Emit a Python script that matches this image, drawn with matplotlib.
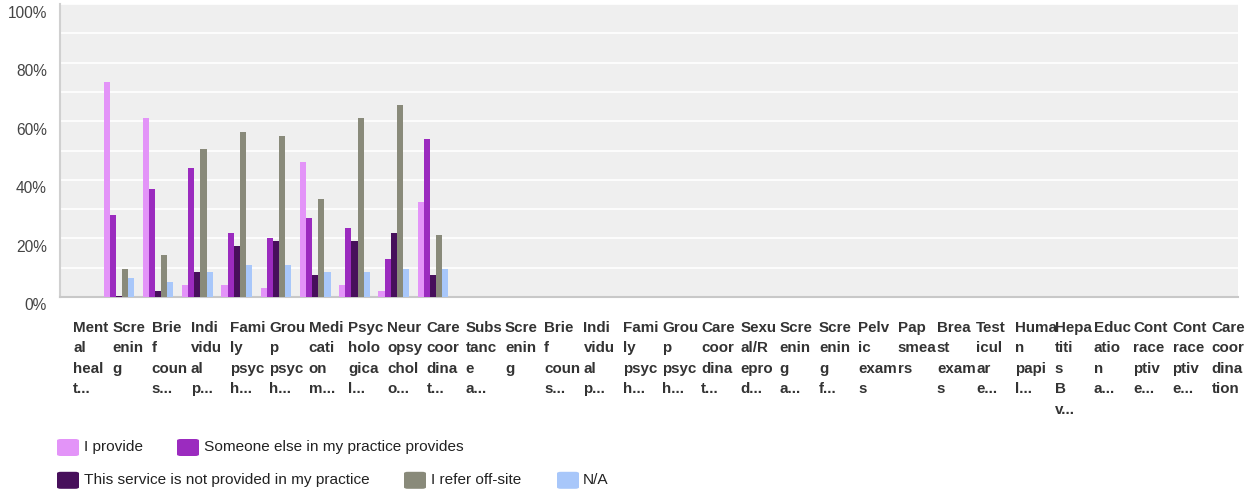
import numpy as np
import matplotlib
matplotlib.use("Agg")
import matplotlib.pyplot as plt
from matplotlib.patches import FancyBboxPatch
from matplotlib.transforms import ScaledTranslation

plt.rcParams['font.family'] = ['Liberation Sans', 'DejaVu Sans']

# ---- data ----
categories = [
    "Ment\nal\nheal\nt...", "Scre\nenin\ng", "Brie\nf\ncoun\ns...", "Indi\nvidu\nal\np...",
    "Fami\nly\npsyc\nh...", "Grou\np\npsyc\nh...", "Medi\ncati\non\nm...", "Psyc\nholo\ngica\nl...",
    "Neur\nopsy\nchol\no...", "Care\ncoor\ndina\nt...", "Subs\ntanc\ne\na...", "Scre\nenin\ng",
    "Brie\nf\ncoun\ns...", "Indi\nvidu\nal\np...", "Fami\nly\npsyc\nh...", "Grou\np\npsyc\nh...",
    "Care\ncoor\ndina\nt...", "Sexu\nal/R\nepro\nd...", "Scre\nenin\ng\na...", "Scre\nenin\ng\nf...",
    "Pelv\nic\nexam\ns", "Pap\nsmea\nrs", "Brea\nst\nexam\ns", "Test\nicul\nar\ne...",
    "Huma\nn\npapi\nl...", "Hepa\ntiti\ns\nB\nv...", "Educ\natio\nn\na...", "Cont\nrace\nptiv\ne...",
    "Cont\nrace\nptiv\ne...", "Care\ncoor\ndina\ntion",
]
N = None
i_provide   = [N, 73.5, 61.2, 4.1, 4.1, 3.1, 46.2, 4.1, 2.1, 32.5] + [N] * 20
someone     = [N, 28.0, 36.9, 44.1, 21.9, 20.2, 27.0, 23.6, 13.0, 54.0] + [N] * 20
not_provided = [N, 0.4, 2.1, 8.5, 17.4, 19.1, 7.5, 19.1, 21.9, 7.5] + [N] * 20
refer       = [N, 9.6, 14.4, 50.6, 56.4, 55.0, 33.5, 61.2, 65.6, 21.2] + [N] * 20
na          = [N, 6.5, 5.1, 8.5, 10.9, 10.9, 8.5, 8.5, 9.6, 9.6] + [N] * 20

series_names = ["I provide", "Someone else in my practice provides",
                "This service is not provided in my practice", "I refer off-site", "N/A"]
series_vals = [i_provide, someone, not_provided, refer, na]
colors = ["#E394F8", "#9B2BBF", "#470F5B", "#898A7A", "#A8C7FA"]
yticks = [0, 20, 40, 60, 80, 100]
ytick_labels = ["0%", "20%", "40%", "60%", "80%", "100%"]

# ---- figure ----
W, H = 1254, 491
fig = plt.figure(figsize=(W / 100, H / 100), dpi=100)
ax = fig.add_axes([60 / W, 1 - 297 / H, 1178 / W, 293 / H])
ax.set_facecolor("#EFEFEF")

x = np.arange(len(categories))
bw = 0.156
for j, (vals, c) in enumerate(zip(series_vals, colors)):
    v = np.array([np.nan if a is None else a for a in vals], dtype=float)
    ax.bar(x + (j - 2) * bw, v, width=bw, color=c, linewidth=0, zorder=3)

ax.set_xlim(-0.5, len(categories) - 0.5)
ax.set_ylim(0, 100)

ax.set_yticks(yticks)
ax.set_yticklabels(ytick_labels, fontsize=11.2, color="#444444")
ax.set_yticks(np.arange(0, 101, 10), minor=True)
ax.tick_params(axis="y", which="both", length=0, pad=9.5)
ax.grid(True, axis="y", which="both", color="white", linewidth=1.2, zorder=1)
for lab in ax.get_yticklabels():
    lab.set_transform(lab.get_transform() + ScaledTranslation(0, -0.075, fig.dpi_scale_trans))

ax.set_xticks(x)
ax.set_xticklabels(categories, fontsize=10.9, fontweight="bold", color="#333333",
                   ha="left", va="top", linespacing=1.6)
ax.tick_params(axis="x", length=0, pad=17)
for lab in ax.get_xticklabels():
    lab.set_transform(lab.get_transform() + ScaledTranslation(-0.066, 0, fig.dpi_scale_trans))

for s in ["top", "right"]:
    ax.spines[s].set_visible(False)
ax.spines["left"].set_color("#D0D0D0")
ax.spines["left"].set_linewidth(1.5)
ax.spines["bottom"].set_color("#C8C8C8")
ax.spines["bottom"].set_linewidth(1.5)

# ---- legend (manual) ----
legend_rows = [
    [(0, 57, 84), (1, 177, 204)],
    [(2, 57, 84), (3, 404, 431), (4, 557, 583)],
]
row_y = [447.5, 480.3]
for row, yc in zip(legend_rows, row_y):
    for idx, bx, tx in row:
        p = FancyBboxPatch((bx / W, (H - yc - 8.5) / H), 22 / W, 17 / H,
                           boxstyle="round,pad=0,rounding_size=0.003",
                           transform=fig.transFigure, facecolor=colors[idx],
                           edgecolor="none")
        fig.patches.append(p)
        fig.text(tx / W, (H - yc + 1.5) / H, series_names[idx], fontsize=11.1,
                 color="#222222", va="center_baseline", ha="left")

fig.savefig("out.png", dpi=100)
